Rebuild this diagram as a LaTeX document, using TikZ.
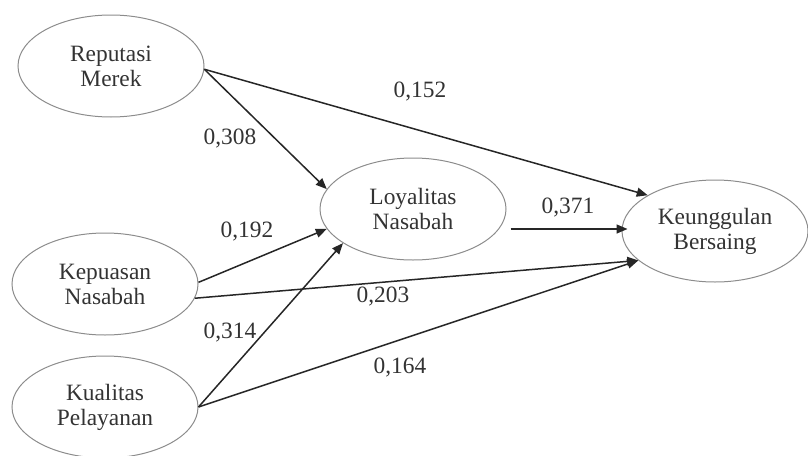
\documentclass[tikz,border=0pt]{standalone}
\usepackage{fontspec}
\setmainfont{Liberation Serif}
\usepackage{tikz}
\usetikzlibrary{shapes.geometric, positioning, arrows.meta}
\tikzset{
construct/.style={shape=ellipse, minimum width=93pt, minimum height=51pt, inner sep=0, draw=black!45, line width=0.5pt, align=center, text=black!80, font={\fontsize{11.7}{12.5}\selectfont}}, coef/.style={text=black!80, inner sep=0, font={\fontsize{11.7}{12.5}\selectfont}}, path/.style={draw=black!85, line width=0.75pt, -{Triangle[length=5.5pt, width=4.5pt]}}}

\begin{document}
\begin{tikzpicture}[x=0.5pt, y=-0.5pt]
\useasboundingbox (0,0) rectangle (808,455);
\node [construct] at (111, 66) (rep) {Reputasi\\Merek};
\node [construct] at (105, 284) (kep) {Kepuasan\\Nasabah};
\node [construct] at (105, 407) (kua) {Kualitas\\Pelayanan};
\node [construct] at (413, 209) (loy) {Loyalitas\\Nasabah};
\node [construct] at (715, 231) (keu) {Keunggulan\\Bersaing};
\foreach \from/\to in {rep.-2/keu.152, rep.-2/loy.167, kep.1/loy.193, kep.-9/keu.201, kua.east/loy.206, kua.east/keu.201}{
      \draw [path] (\from) -- (\to);
}
\draw [path] ([xshift=2pt, yshift=-10pt]loy.east) -- ([xshift=3pt, yshift=-10pt]loy.east -| keu.west);
\node [coef] at (420, 92) (c-rk) {0,152};
\node [coef] at (230, 139) (c-rl) {0,308};
\node [coef] at (247, 232) (c-pl) {0,192};
\node [coef] at (568, 208) (c-lk) {0,371};
\node [coef] at (383, 297) (c-pk) {0,203};
\node [coef] at (230, 333) (c-ql) {0,314};
\node [coef] at (400, 368) (c-qk) {0,164};
\end{tikzpicture}
\end{document}
